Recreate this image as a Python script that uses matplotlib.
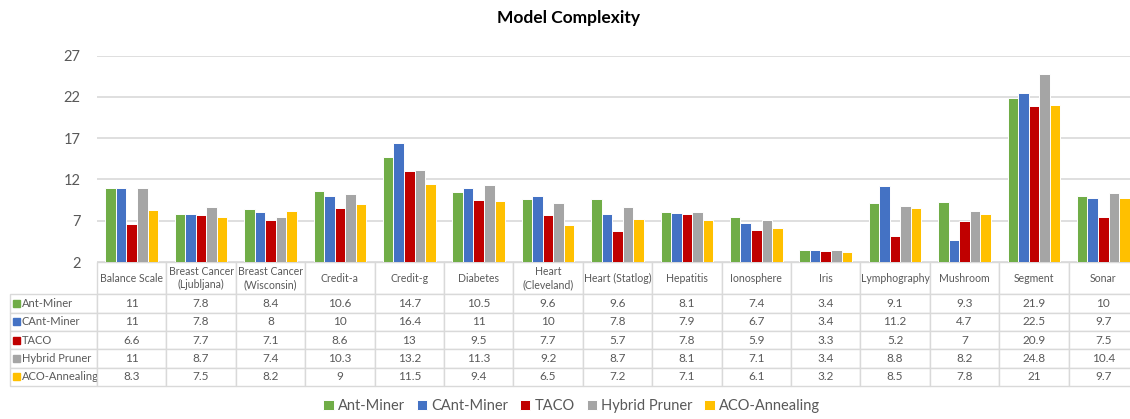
import matplotlib.pyplot as plt
import numpy as np
from matplotlib.patches import Rectangle

plt.rcParams["font.family"] = ["Lato", "DejaVu Sans"]

datasets = ["Balance Scale", "Breast Cancer\n(Ljubljana)", "Breast Cancer\n(Wisconsin)",
            "Credit-a", "Credit-g", "Diabetes", "Heart\n(Cleveland)", "Heart (Statlog)",
            "Hepatitis", "Ionosphere", "Iris", "Lymphography", "Mushroom", "Segment", "Sonar"]
series_names = ["Ant-Miner", "CAnt-Miner", "TACO", "Hybrid Pruner", "ACO-Annealing"]
ant_miner = [11, 7.8, 8.4, 10.6, 14.7, 10.5, 9.6, 9.6, 8.1, 7.4, 3.4, 9.1, 9.3, 21.9, 10]
cant_miner = [11, 7.8, 8, 10, 16.4, 11, 10, 7.8, 7.9, 6.7, 3.4, 11.2, 4.7, 22.5, 9.7]
taco = [6.6, 7.7, 7.1, 8.6, 13, 9.5, 7.7, 5.7, 7.8, 5.9, 3.3, 5.2, 7, 20.9, 7.5]
hybrid_pruner = [11, 8.7, 7.4, 10.3, 13.2, 11.3, 9.2, 8.7, 8.1, 7.1, 3.4, 8.8, 8.2, 24.8, 10.4]
aco_annealing = [8.3, 7.5, 8.2, 9, 11.5, 9.4, 6.5, 7.2, 7.1, 6.1, 3.2, 8.5, 7.8, 21, 9.7]
yticks = [2, 7, 12, 17, 22, 27]

series = [ant_miner, cant_miner, taco, hybrid_pruner, aco_annealing]
colors = ["#70AD47", "#4472C4", "#C00000", "#A5A5A5", "#FFC000"]
text_c = "#595959"
line_c = "#D9D9D9"

W, H = 1130, 419
fig = plt.figure(figsize=(W / 100, H / 100), dpi=100)

# plot area in pixels
ax_l, ax_top, ax_bot = 97, 55.7, 262
col_w = 69.4
ax_w = col_w * len(datasets)
ax_h = ax_bot - ax_top
ax = fig.add_axes([ax_l / W, 1 - ax_bot / H, ax_w / W, ax_h / H])

x = np.arange(len(datasets))
bw = 0.152
bars = []
for k, (vals, c) in enumerate(zip(series, colors)):
    b = ax.bar(x + (k - 2) * bw, np.array(vals) - 2, bw, bottom=2, color=c,
               edgecolor="white", linewidth=0.7, zorder=3)
    bars.append(b)

ax.set_xlim(-0.5, len(datasets) - 0.5)
ax.set_ylim(2, 27)
ax.set_yticks(yticks)
ax.set_xticks([])
ax.tick_params(axis="y", length=0, labelsize=10.5, labelcolor=text_c, pad=12)
ax.grid(axis="y", color=line_c, linewidth=1.2, zorder=0)
for s in ax.spines.values():
    s.set_visible(False)

# data table below the plot
lab_w = 87
hdr_h = 32.3
row_h = 18.35
cell_text = [[""] + [d for d in datasets]]
for name, vals in zip(series_names, series):
    cell_text.append([name] + [f"{v:g}" for v in vals])

tab_h = hdr_h + row_h * len(series)
bbox = [-lab_w / ax_w, -tab_h / ax_h, (lab_w + ax_w) / ax_w, tab_h / ax_h]
tbl = ax.table(cellText=cell_text, colWidths=[lab_w] + [col_w] * len(datasets),
               cellLoc="center", bbox=bbox)
tbl.auto_set_font_size(False)
for (r, c), cell in tbl.get_celld().items():
    cell.set_edgecolor(line_c)
    cell.set_linewidth(1.0)
    cell.set_height(hdr_h if r == 0 else row_h)
    cell.get_text().set_color(text_c)
    cell.get_text().set_fontsize(8.5 if r > 0 else 7.6)
    cell.get_text().set_linespacing(1.2)
    if r == 0 and c == 0:
        cell.set_edgecolor("none")
    if c == 0 and r > 0:
        cell.PAD = 0.135
        cell.get_text().set_ha("left")
        cell.get_text().set_fontsize(8)

# colored squares in row labels
for k, c in enumerate(colors):
    yc = -(hdr_h + row_h * (k + 0.5))
    ax.add_patch(Rectangle(((13 - ax_l) / ax_w, (yc - 3.5) / ax_h), 7 / ax_w, 7 / ax_h,
                           transform=ax.transAxes, color=c, clip_on=False))

fig.text(0.503, 1 - 18 / H, "Model Complexity", ha="center", va="center",
         fontsize=12.5, fontweight="bold", color="black")

fig.legend([b[0] for b in bars], series_names, loc="center",
           bbox_to_anchor=(0.506, 1 - 406 / H), ncol=5, frameon=False,
           fontsize=10.5, handlelength=0.7, handleheight=0.7,
           columnspacing=0.8, handletextpad=0.3, labelcolor=text_c)

fig.savefig("out.png", dpi=100)
